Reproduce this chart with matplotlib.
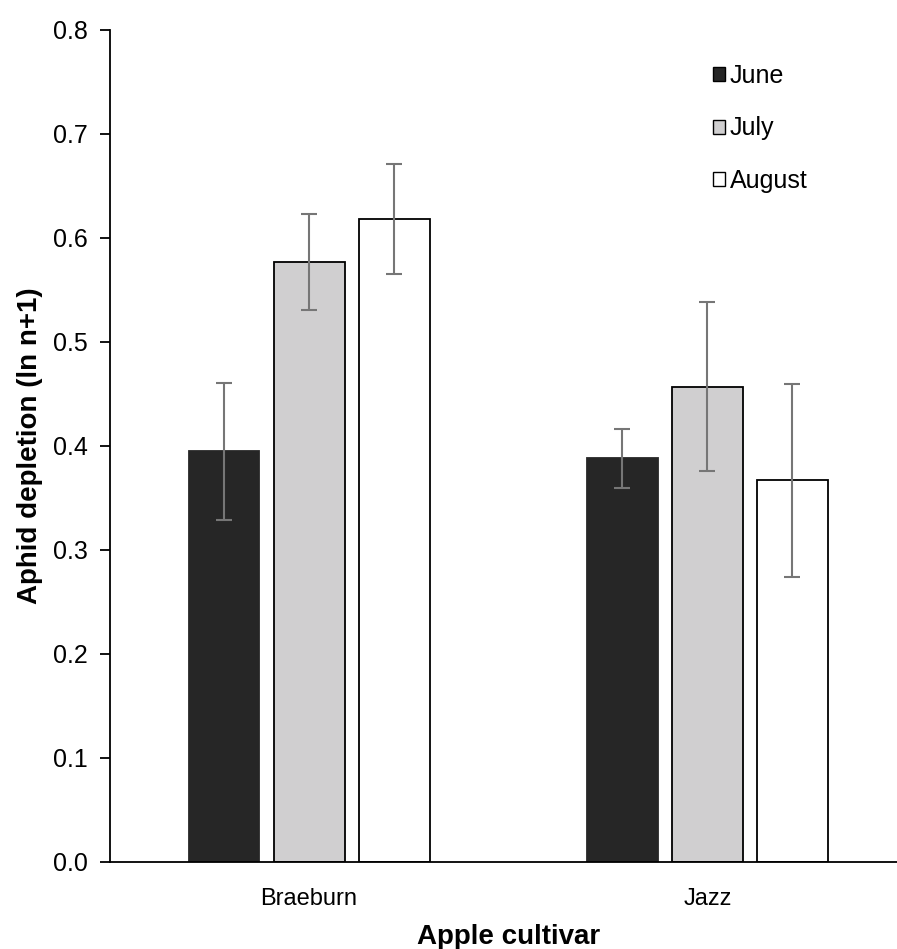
import numpy as np
import matplotlib
matplotlib.use("Agg")
from matplotlib import pyplot as plt
from matplotlib.patches import Patch

plt.rcParams['font.family'] = ['Liberation Sans', 'DejaVu Sans']

cultivars = ["Braeburn", "Jazz"]
months = ["June", "July", "August"]
june = [0.395, 0.388]
july = [0.577, 0.457]
august = [0.618, 0.367]
june_err = [0.066, 0.028]
july_err = [0.046, 0.081]
august_err = [0.053, 0.093]

values = [june, july, august]
errors = [june_err, july_err, august_err]
colours = ["#262626", "#d0cfd0", "#ffffff"]
edges = ["#262626", "#000000", "#000000"]

fig = plt.figure(figsize=(8.97, 9.49), dpi=100)
ax = fig.add_axes([0.1226, 0.0917, 0.888, 0.8767])

x = np.arange(len(cultivars))
width = 0.178
step = 0.2136
for i in range(len(months)):
    ax.bar(x + (i - 1) * step, values[i], width, color=colours[i], edgecolor=edges[i],
           linewidth=1.3, label=months[i], zorder=2)
    ax.errorbar(x + (i - 1) * step, values[i], yerr=errors[i], fmt='none',
                ecolor="#767676", elinewidth=1.5, capsize=6, capthick=1.5, zorder=3)

ax.set_xlim(-0.5, 1.5)
ax.set_ylim(0, 0.8)
ax.set_yticks(np.arange(0, 0.81, 0.1))
ax.set_yticklabels(["{:.1f}".format(v) for v in np.arange(0, 0.81, 0.1)])
ax.set_xticks(x)
ax.set_xticklabels(cultivars)
ax.tick_params(axis='y', labelsize=18, length=7, width=1.3, pad=9)
ax.tick_params(axis='x', labelsize=17, length=0, pad=19)
ax.spines['top'].set_visible(False)
ax.spines['right'].set_visible(False)
ax.spines['left'].set_linewidth(1.3)
ax.spines['bottom'].set_linewidth(1.3)

ax.set_xlabel("Apple cultivar", fontsize=20, fontweight='bold', labelpad=9.5)
ax.set_ylabel("Aphid depletion (ln n+1)", fontsize=20, fontweight='bold', labelpad=7)

handles = [Patch(facecolor=colours[i], edgecolor="#000000", linewidth=1.0) for i in range(3)]
fig.legend(handles, months, loc='upper left', bbox_to_anchor=(0.781, 0.946), frameon=False,
           fontsize=18, handlelength=0.48, handleheight=0.48, handletextpad=0.2,
           labelspacing=1.15, borderpad=0)

fig.savefig("out.png", dpi=100)
